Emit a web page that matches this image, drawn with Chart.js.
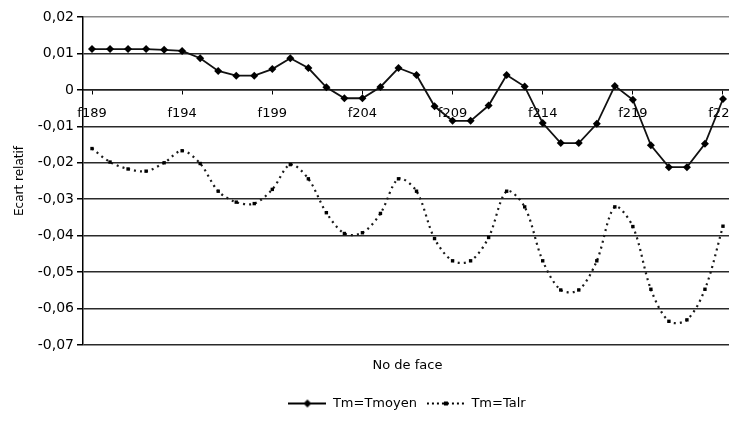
<!DOCTYPE html>
<html>
<head>
<meta charset="utf-8">
<script src="https://cdn.jsdelivr.net/npm/chart.js@4.4.1/dist/chart.umd.min.js"></script>
<style>
    html, body { margin: 0; padding: 0; background: #fff; overflow: hidden; }
    #wrap { width: 814px; height: 426px; }
</style>
</head>
<body>
<div id="wrap"><canvas id="faceChart" width="814" height="426"></canvas></div>
<script>
// Faces f189 .. f224 (the last labels are cut off at the right edge of the picture)
const faces = ['f189', 'f190', 'f191', 'f192', 'f193', 'f194', 'f195', 'f196', 'f197', 'f198',
    'f199', 'f200', 'f201', 'f202', 'f203', 'f204', 'f205', 'f206', 'f207', 'f208',
    'f209', 'f210', 'f211', 'f212', 'f213', 'f214', 'f215', 'f216', 'f217', 'f218',
    'f219', 'f220', 'f221', 'f222', 'f223', 'f224'];

// Tm = Tmoyen
const tmMoyen = [0.0112, 0.0112, 0.0112, 0.0112, 0.0110, 0.0107, 0.0087, 0.0052, 0.0039, 0.0039,
    0.0057, 0.0087, 0.0060, 0.0007, -0.0023, -0.0023, 0.0008, 0.0060, 0.0041, -0.0045,
    -0.0085, -0.0085, -0.0043, 0.0041, 0.0009, -0.0091, -0.0146, -0.0146, -0.0093, 0.0011,
    -0.0027, -0.0152, -0.0212, -0.0212, -0.0148, -0.0025];

// Tm = Tair
const tmAir = [-0.0161, -0.0198, -0.0217, -0.0223, -0.0200, -0.0167, -0.0202, -0.0278, -0.0308, -0.0312,
    -0.0273, -0.0205, -0.0244, -0.0337, -0.0394, -0.0392, -0.0339, -0.0244, -0.0278, -0.0408,
    -0.0469, -0.0469, -0.0405, -0.0278, -0.0321, -0.0469, -0.0549, -0.0549, -0.0469, -0.0321,
    -0.0375, -0.0547, -0.0635, -0.0631, -0.0547, -0.0374];

const seriesNames = ['Tm=Tmoyen', 'Tm=Talr'];
const yTicks = { min: -0.07, max: 0.02, step: 0.01 };

const FONT = 'DejaVu Sans';
const INK = '#000';

// small legend icons: line + marker, like the spreadsheet legend
function makeIcon(dotted) {
    const c = document.createElement('canvas');
    c.width = 38;
    c.height = 10;
    const g = c.getContext('2d');
    g.strokeStyle = INK;
    g.fillStyle = INK;
    g.lineWidth = dotted ? 2 : 1.8;
    if (dotted) g.setLineDash([2, 3]);
    g.beginPath();
    g.moveTo(0, 5);
    g.lineTo(38, 5);
    g.stroke();
    g.setLineDash([]);
    g.beginPath();
    if (dotted) {
        g.rect(17, 3, 4, 4);
    } else {
        g.moveTo(19, 1); g.lineTo(23, 5); g.lineTo(19, 9); g.lineTo(15, 5); g.closePath();
    }
    g.fill();
    return c;
}
const icons = [makeIcon(false), makeIcon(true)];

function fmtTick(value) {
    const n = Math.round(value * 100);
    if (n === 0) return '0';
    return (n < 0 ? '-' : '') + '0,' + String(Math.abs(n)).padStart(2, '0');
}

const ctx = document.getElementById('faceChart').getContext('2d');

new Chart(ctx, {
    type: 'line',
    data: {
        labels: faces,
        datasets: [{
            label: seriesNames[0],
            data: tmMoyen,
            borderColor: '#111',
            backgroundColor: '#111',
            borderWidth: 1.8,
            pointStyle: 'rectRot',
            pointRadius: 4,
            pointBackgroundColor: '#000',
            pointBorderWidth: 0,
            tension: 0
        }, {
            label: seriesNames[1],
            data: tmAir,
            borderColor: '#1a1a1a',
            backgroundColor: '#1a1a1a',
            borderWidth: 2.2,
            borderDash: [2, 4],
            pointStyle: 'rect',
            pointRadius: 2.4,
            pointBackgroundColor: '#000',
            pointBorderWidth: 0,
            tension: 0.32
        }]
    },
    options: {
        responsive: false,
        animation: false,
        layout: {
            padding: { top: 17, bottom: 6, left: 0, right: 0 }
        },
        scales: {
            x: {
                type: 'category',
                position: { y: 0 },
                offset: true,
                grid: {
                    display: true,
                    drawOnChartArea: false,
                    tickLength: 4,
                    color: function (c) { return c.index % 5 === 0 ? '#000' : 'rgba(0,0,0,0)'; }
                },
                border: { display: true, color: '#222', width: 1.5 },
                ticks: {
                    autoSkip: false,
                    maxRotation: 0,
                    padding: 12,
                    color: INK,
                    font: { family: FONT, size: 13 },
                    callback: function (value, index) {
                        return index % 5 === 0 ? this.getLabelForValue(value) : '';
                    }
                }
            },
            x2: {
                type: 'category',
                position: 'bottom',
                offset: true,
                grid: { display: false },
                border: { display: false },
                ticks: { display: false },
                title: {
                    display: true,
                    text: 'No de face',
                    color: INK,
                    padding: { top: 0, bottom: 14 },
                    font: { family: FONT, size: 13 }
                },
                afterFit: function (scale) { scale.height = 42; }
            },
            y: {
                min: yTicks.min,
                max: yTicks.max,
                ticks: {
                    stepSize: yTicks.step,
                    padding: 3,
                    color: INK,
                    font: { family: FONT, size: 14 },
                    callback: fmtTick
                },
                grid: {
                    color: function (c) {
                        return Math.round(c.tick.value * 100) === 2 ? '#8a8a8a' : '#2a2a2a';
                    },
                    tickColor: '#000',
                    tickLength: 6,
                    lineWidth: 1.5
                },
                border: { display: true, color: '#000', width: 1.5 },
                title: {
                    display: true,
                    text: 'Ecart relatif',
                    color: INK,
                    padding: { top: 13, bottom: 0 },
                    font: { family: FONT, size: 12 }
                },
                afterFit: function (scale) { scale.width = 83; }
            },
            y2: {
                type: 'linear',
                position: 'right',
                grid: { display: false },
                border: { display: false },
                ticks: { display: false },
                afterFit: function (scale) { scale.width = 82; }
            }
        },
        plugins: {
            legend: {
                position: 'bottom',
                labels: {
                    usePointStyle: true,
                    pointStyleWidth: 38,
                    padding: 10,
                    color: INK,
                    font: { family: FONT, size: 13 },
                    generateLabels: function (chart) {
                        return chart.data.datasets.map(function (ds, i) {
                            return {
                                text: ds.label,
                                pointStyle: icons[i],
                                fillStyle: INK,
                                strokeStyle: INK,
                                lineWidth: 0,
                                hidden: false,
                                datasetIndex: i
                            };
                        });
                    }
                }
            },
            tooltip: { enabled: false }
        }
    }
});
</script>
</body>
</html>
